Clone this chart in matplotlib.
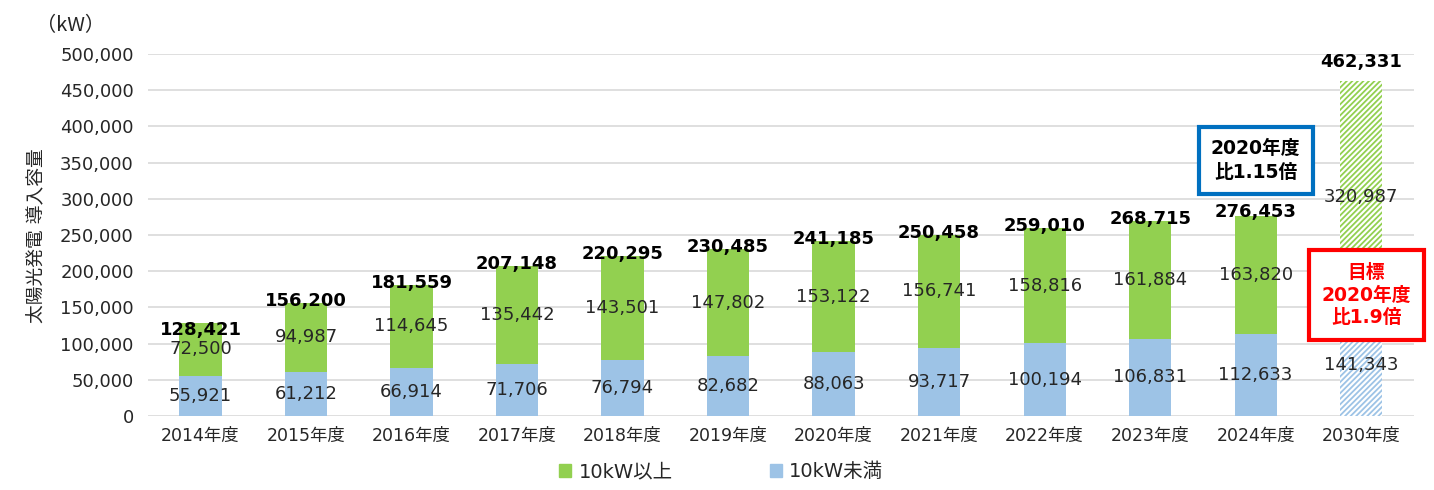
import matplotlib
matplotlib.use("Agg")
import matplotlib.pyplot as plt
import numpy as np

# DejaVu for the wide digits, Noto CJK for the Japanese
plt.rcParams['font.family'] = ['DejaVu Sans', 'Noto Sans CJK JP']

years = ['2014年度', '2015年度', '2016年度', '2017年度', '2018年度', '2019年度',
         '2020年度', '2021年度', '2022年度', '2023年度', '2024年度', '2030年度']
under10 = [55921, 61212, 66914, 71706, 76794, 82682, 88063, 93717, 100194, 106831, 112633, 141343]
over10 = [72500, 94987, 114645, 135442, 143501, 147802, 153122, 156741, 158816, 161884, 163820, 320987]
totals = [128421, 156200, 181559, 207148, 220295, 230485, 241185, 250458, 259010, 268715, 276453, 462331]

green = '#92D050'
blue = '#9DC3E6'
txt = '#262626'

fig = plt.figure(figsize=(14.34, 4.9), dpi=100)
ax = fig.add_axes([0.103, 0.151, 0.883, 0.739])

x = np.arange(len(years))
w = 0.4
n = len(years) - 1  # last one is the target year, hatched

ax.bar(x[:n], under10[:n], w, color=blue, zorder=2)
ax.bar(x[:n], over10[:n], w, bottom=under10[:n], color=green, zorder=2)
plt.rcParams['hatch.linewidth'] = 1.3
ax.bar(x[n], under10[n], w, color='white', edgecolor=blue, hatch='//////', linewidth=0, zorder=2)
ax.bar(x[n], over10[n], w, bottom=under10[n], color='white', edgecolor=green, hatch='//////',
       linewidth=0, zorder=2)

# labels
lift = [-7, 2, 2, 2, 2, 2, 2, 2, 2, 2, 4, 19]
for i in range(len(years)):
    ax.text(x[i], under10[i] / 2, f'{under10[i]:,}', ha='center', va='center',
            fontsize=13, color=txt, zorder=3)
    ax.text(x[i], under10[i] + over10[i] / 2, f'{over10[i]:,}', ha='center', va='center',
            fontsize=13, color=txt, zorder=3)
    ax.annotate(f'{totals[i]:,}', (x[i], totals[i]), xytext=(0, lift[i]), textcoords='offset pixels',
                ha='center', va='center', fontsize=13, fontweight='bold', color='black', zorder=3)

ax.set_xlim(-0.5, len(years) - 0.5)
ax.set_ylim(0, 500000)
ax.set_yticks(np.arange(0, 500001, 50000))
ax.set_yticklabels([f'{v:,}' for v in range(0, 500001, 50000)], fontsize=13, color=txt)
ax.set_xticks(x)
ax.set_xticklabels(years, fontsize=12.5, color=txt)
ax.tick_params(length=0, pad=10)
ax.tick_params(axis='x', pad=8)
ax.yaxis.grid(True, color='#D9D9D9', linewidth=1.2, zorder=0)
ax.set_axisbelow(True)
for s in ax.spines.values():
    s.set_visible(False)

fig.text(0.026, 0.52, '太陽光発電 導入容量', rotation=90, ha='center', va='center',
         fontsize=13.5, color=txt)
fig.text(0.049, 0.947, '（kW）', ha='center', va='center', fontsize=14.5, color=txt,
         family=['Noto Sans CJK JP'])

ax.text(10.0, 353000, '2020年度\n比1.15倍', ha='center', va='center', fontsize=13.5,
        fontweight='bold', color='black', linespacing=1.3, zorder=5,
        bbox=dict(boxstyle='square,pad=0.65', fc='white', ec='#0070C0', lw=3))
ax.text(11.05, 167000, '目標\n2020年度\n比1.9倍', ha='center', va='center', fontsize=13.5,
        fontweight='bold', color='#FF0000', linespacing=1.25, zorder=5, clip_on=False,
        bbox=dict(boxstyle='square,pad=0.7', fc='white', ec='#FF0000', lw=3))

handles = [plt.Rectangle((0, 0), 1, 1, color=green), plt.Rectangle((0, 0), 1, 1, color=blue)]
fig.legend(handles, ['10kW以上', '10kW未満'], loc='center', bbox_to_anchor=(0.503, 0.037),
           ncol=2, frameon=False, fontsize=14, handlelength=0.6, handleheight=0.6,
           handletextpad=0.4, columnspacing=5.0, labelcolor=txt)

fig.savefig('out.png', dpi=100)
